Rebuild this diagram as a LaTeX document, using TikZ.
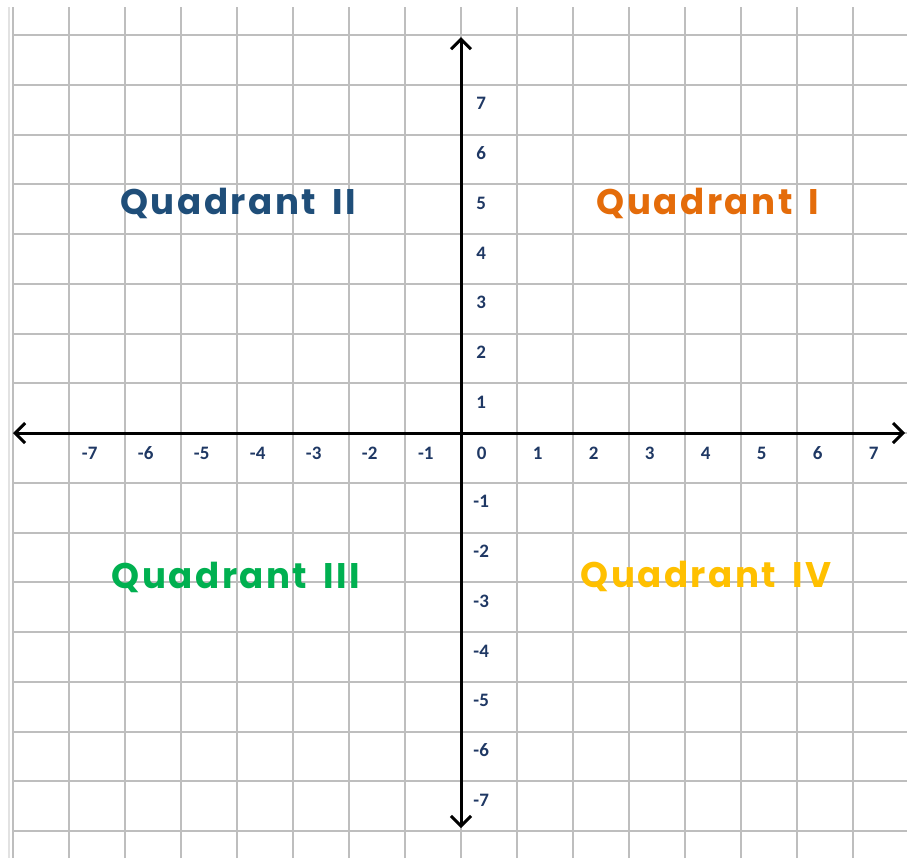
\documentclass[tikz,border=0pt]{standalone}
\usepackage{fontspec}
\usepackage{tikz}
\usepackage{xcolor}
\usetikzlibrary{arrows.meta,positioning,calc}
\setmainfont{Carlito}
\newfontfamily\quadfont{Poppins}[LetterSpace=7,WordSpace=1.6]
\definecolor{gridgray}{RGB}{190,190,190}
\definecolor{labelblue}{RGB}{31,56,100}
\definecolor{quadone}{RGB}{228,108,10}
\definecolor{quadtwo}{RGB}{31,78,121}
\definecolor{quadthree}{RGB}{0,176,80}
\definecolor{quadfour}{RGB}{255,192,0}

\begin{document}
\begin{tikzpicture}[x=28pt, y=24.875pt,
        >={Straight Barb[length=5pt,width=10pt]},
        gridline/.style={draw=gridgray, line width=1pt},
        axisline/.style={line width=1.5pt, <->},
        ticklabel/.style={font=\bfseries\fontsize{9.5}{11}\selectfont, text=labelblue, inner sep=0pt},
        quadlabel/.style={font=\quadfont\bfseries\fontsize{17.8}{21}\selectfont, inner sep=0pt}]
            \useasboundingbox[fill=white] (-8.232,-8.543) rectangle (7.964,8.704);
            % grid
            \draw[gridgray!45, line width=0.8pt] (-8.07,-8.543) -- (-8.07,8.563);
            \foreach \x in {-8,...,7}
                \draw[gridline] (\x,-8.543) -- (\x,8.563);
            \foreach \y in {-8,...,8}
                \draw[gridline] (-8,\y) -- (7.964,\y);
            % axes
            \coordinate (O) at (0,0);
            \coordinate (xmin) at (-8,0);
            \coordinate (xmax) at (7.93,0);
            \coordinate (ymin) at (0,-7.94);
            \coordinate (ymax) at (0,7.96);
            \draw[axisline] (xmin) -- (xmax);
            \draw[axisline] (ymin) -- (ymax);
            % numbers
            \foreach \i in {-7,...,7}
                \node[ticklabel] (xlabel\i) at (\i+0.37,-0.4) {\i};
            \foreach \i in {1,...,7} {
                \node[ticklabel] (ylabelp\i) at (0.36,\i-0.38) {\i};
                \node[ticklabel] (ylabeln\i) at (0.36,-\i-0.38) {-\i};
            }
            % quadrants
            \node[quadlabel, text=quadone] (quadI) at (4.41,4.62) {Quadrant I};
            \node[quadlabel, text=quadtwo] (quadII) at (-3.98,4.62) {Quadrant II};
            \node[quadlabel, text=quadthree] (quadIII) at (-4.02,-2.91) {Quadrant III};
            \node[quadlabel, text=quadfour] (quadIV) at (4.375,-2.89) {Quadrant IV};
        \end{tikzpicture}
\end{document}
